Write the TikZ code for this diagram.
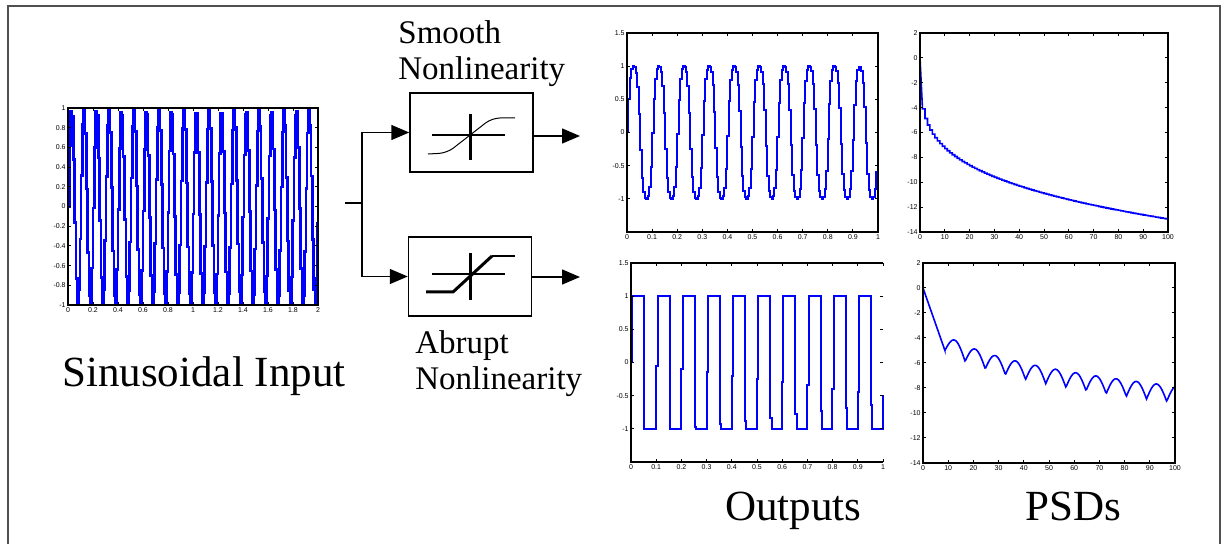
\documentclass[tikz,border=0pt]{standalone}
\usepackage{fontspec}
\setmainfont{Liberation Serif}
\setsansfont{Liberation Sans}
\usetikzlibrary{arrows.meta,positioning,calc}
\definecolor{plotblue}{RGB}{0,0,255}
\definecolor{framegray}{RGB}{80,80,80}

\tikzset{
  axisbox/.style={draw=black, line width=0.9pt},
  tickmark/.style={black, line width=0.5pt},
  sig/.style={plotblue, line width=1pt},
  ticklab/.style={font=\sffamily\fontsize{3.5}{4}\selectfont, inner sep=1pt},
  nlbox/.style={draw=black, line width=0.75pt, minimum width=61.5pt, minimum height=39.5pt, inner sep=0pt},
  conn/.style={black, line width=0.75pt},
  tip/.style={-{Triangle[length=9pt,width=7.5pt]}},
  nltext/.style={font=\fontsize{16.5}{18.4}\selectfont, align=left, inner sep=0pt, anchor=base west},
  caption/.style={font=\fontsize{21.5}{24}\selectfont, inner sep=0pt, anchor=base west},
}

\begin{document}
\begin{tikzpicture}[x=0.5pt, y=-0.5pt]
  \useasboundingbox (0,0) rectangle (1225,544);
  % outer frame
  \draw[framegray, line width=1pt] (8,544) -- (8,6) -- (1220,6) -- (1220,544);

  % sinusoidal input
  \begin{scope}[shift={(68,206.5)}, x=62.5pt, y=49.25pt]
    \draw[sig, line width=1.3pt] plot[const plot, domain=0:2, samples=191] (\x,{sin(3600*\x)});
    \draw[axisbox] (0,-1) rectangle (2,1);
    \foreach \t [count=\i from 0] in {0,0.2,0.4,0.6,0.8,1,1.2,1.4,1.6,1.8,2} {
      \draw[tickmark] (\i/5,-1) -- ++(0pt,1.5pt) (\i/5,1) -- ++(0pt,-1.5pt);
      \node[ticklab, below] (inx\i) at (\i/5,-1) {\t};
    }
    \foreach \t [count=\i from 0] in {-1,-0.8,-0.6,-0.4,-0.2,0,0.2,0.4,0.6,0.8,1} {
      \draw[tickmark] (0,\i/5-1) -- ++(1.5pt,0pt) (2,\i/5-1) -- ++(-1.5pt,0pt);
      \node[ticklab, left] (iny\i) at (0,\i/5-1) {\t};
    }
  \end{scope}

  % output of the smooth nonlinearity
  \begin{scope}[shift={(627,132.5)}, x=125.5pt, y=33.17pt]
    \draw[sig] plot[const plot, domain=0:1, samples=171] (\x,{tanh(1.3*sin(3600*\x))/tanh(1.3)});
    \draw[axisbox] (0,-1.5) rectangle (1,1.5);
    \foreach \t [count=\i from 0] in {0,0.1,0.2,0.3,0.4,0.5,0.6,0.7,0.8,0.9,1} {
      \draw[tickmark] (\i/10,-1.5) -- ++(0pt,1.5pt) (\i/10,1.5) -- ++(0pt,-1.5pt);
      \node[ticklab, below] (sox\i) at (\i/10,-1.5) {\t};
    }
    \foreach \t [count=\i from 0] in {-1,-0.5,0,0.5,1,1.5} {
      \draw[tickmark] (0,\i/2-1) -- ++(1.5pt,0pt) (1,\i/2-1) -- ++(-1.5pt,0pt);
      \node[ticklab, left] (soy\i) at (0,\i/2-1) {\t};
    }
  \end{scope}

  % output of the abrupt nonlinearity
  \begin{scope}[shift={(631,362.5)}, x=126pt, y=33.17pt]
    \draw[sig] plot[const plot, domain=0:1, samples=171] (\x,{min(1,max(-1,6*sin(3600*\x)))});
    \draw[axisbox] (1,1.5) -- (0,1.5) -- (0,-1.5) -- (1,-1.5);
    \foreach \t [count=\i from 0] in {0,0.1,0.2,0.3,0.4,0.5,0.6,0.7,0.8,0.9,1} {
      \draw[tickmark] (\i/10,-1.5) -- ++(0pt,1.5pt) (\i/10,1.5) -- ++(0pt,-1.5pt);
      \node[ticklab, below] (aox\i) at (\i/10,-1.5) {\t};
    }
    \foreach \t [count=\i from 0] in {-1,-0.5,0,0.5,1,1.5} {
      \draw[tickmark] (0,\i/2-1) -- ++(1.5pt,0pt) (1,\i/2-1) -- ++(-1.5pt,0pt);
      \node[ticklab, left] (aoy\i) at (0,\i/2-1) {\t};
    }
  \end{scope}

  % PSD, smooth case
  \begin{scope}[shift={(920,57.9)}, x=1.24pt, y=6.22pt]
    \draw[sig, line width=0.8pt] (0,0) -- plot[const plot, domain=1:100, samples=100] (\x,{-4.1*\x^0.25});
    \draw[axisbox] (0,-14) rectangle (100,2);
    \foreach \t in {0,10,...,100} {
      \draw[tickmark] (\t,-14) -- ++(0pt,1.5pt) (\t,2) -- ++(0pt,-1.5pt);
      \node[ticklab, below] (spx\t) at (\t,-14) {\t};
    }
    \foreach \t in {-14,-12,...,2} {
      \draw[tickmark] (0,\t) -- ++(1.5pt,0pt) (100,\t) -- ++(-1.5pt,0pt);
      \node[ticklab, left] (spy\t) at (0,\t) {\t};
    }
  \end{scope}

  % PSD, abrupt case
  \begin{scope}[shift={(923,288)}, x=1.26pt, y=6.25pt]
    \draw[sig, line width=0.8pt] (0,0) -- (8.7,-5)
      -- plot[domain=8.7:100, samples=300] (\x,{-2.92*\x^0.248+1.3*abs(sin(22.5*(\x-0.7)))});
    \draw[axisbox] (0,-14) rectangle (100,2);
    \foreach \t in {0,10,...,100} {
      \draw[tickmark] (\t,-14) -- ++(0pt,1.5pt) (\t,2) -- ++(0pt,-1.5pt);
      \node[ticklab, below] (apx\t) at (\t,-14) {\t};
    }
    \foreach \t in {-14,-12,...,2} {
      \draw[tickmark] (0,\t) -- ++(1.5pt,0pt) (100,\t) -- ++(-1.5pt,0pt);
      \node[ticklab, left] (apy\t) at (0,\t) {\t};
    }
  \end{scope}

  % nonlinearity blocks
  \node[nlbox] (smooth) at (471.5,132.5) {};
  \node[nlbox] (abrupt) at (470,276.5) {};
  \draw[line width=1.5pt] (470,114) -- (470,160);
  \draw[line width=0.6pt] (432,135) -- (505,135);
  \draw[line width=0.5pt, rounded corners=4pt] (428,154) -- (447,153) -- (492,118) -- (515,118);
  \draw[line width=1.5pt] (470,253) -- (470,300);
  \draw[line width=0.6pt] (432,274) -- (505,274);
  \draw[line width=1.5pt] (426,292) -- (453,292) -- (492,256);
  \draw[line width=0.6pt] (492,256) -- (515,256);

  % connectors
  \coordinate (instub) at (345,203);
  \coordinate (split) at (362,203);
  \coordinate (sout) at (580,136);
  \coordinate (aout) at (580,277);
  \draw[conn] (instub) -- (split);
  \draw[conn, tip] (split) |- (smooth.west);
  \draw[conn, tip] (split) |- (abrupt.west);
  \draw[conn, tip] (smooth.east |- sout) -- (sout);
  \draw[conn, tip] (abrupt.east |- aout) -- (aout);

  % texts
  \node[nltext] (smoothlab) at (398,80) {Smooth\\Nonlinearity};
  \node[nltext] (abruptlab) at (415,390) {Abrupt\\Nonlinearity};
  \node[caption] (inlab) at (62,387) {Sinusoidal Input};
  \node[caption] (outlab) at (725,520) {Outputs};
  \node[caption] (psdlab) at (1025,520) {PSDs};
\end{tikzpicture}
\end{document}
